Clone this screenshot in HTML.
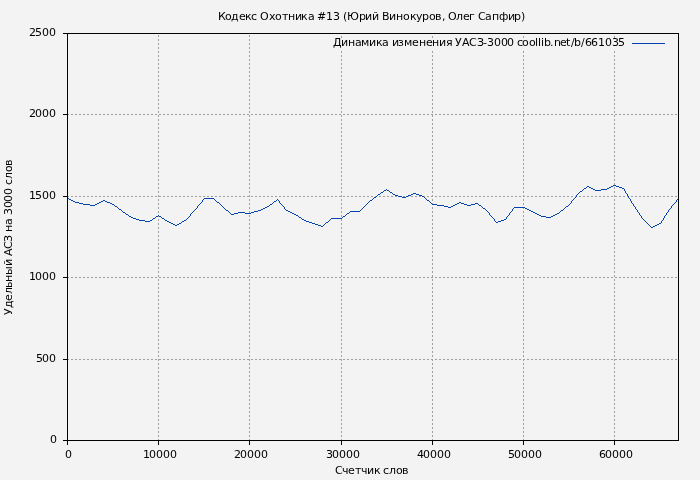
<!DOCTYPE html>
<html lang="ru">
<head>
<meta charset="utf-8">
<title>Кодекс Охотника #13 (Юрий Винокуров, Олег Сапфир)</title>
<style>
html, body { margin: 0; padding: 0; background: #f3f3f3; }
body { width: 700px; height: 480px; overflow: hidden; }
svg { display: block; }
text { font-family: "DejaVu Sans", "Liberation Sans", sans-serif; font-size: 11px; fill: #000; white-space: pre; }
.ax { stroke: #000; stroke-width: 1; fill: none; shape-rendering: crispEdges; }
.grid { stroke: #a0a0a0; stroke-width: 1; fill: none; stroke-dasharray: 2 2; shape-rendering: crispEdges; }
.data { stroke: #0542b0; stroke-width: 1; fill: none; shape-rendering: crispEdges; stroke-linejoin: round; }
</style>
</head>
<body>
<svg width="700" height="480" viewBox="0 0 700 480">
<rect x="0" y="0" width="700" height="480" fill="#f3f3f3"/>

<g class="grid">
<line x1="158.5" y1="440.5" x2="158.5" y2="33.5" stroke-dashoffset="0"/>
<line x1="249.5" y1="440.5" x2="249.5" y2="33.5" stroke-dashoffset="0"/>
<line x1="341.5" y1="440.5" x2="341.5" y2="50.5" stroke-dashoffset="0"/>
<line x1="341.5" y1="38" x2="341.5" y2="34"/>
<line x1="432.5" y1="440.5" x2="432.5" y2="50.5" stroke-dashoffset="0"/>
<line x1="432.5" y1="38" x2="432.5" y2="34"/>
<line x1="523.5" y1="440.5" x2="523.5" y2="50.5" stroke-dashoffset="0"/>
<line x1="523.5" y1="38" x2="523.5" y2="34"/>
<line x1="614.5" y1="440.5" x2="614.5" y2="50.5" stroke-dashoffset="0"/>
<line x1="614.5" y1="38" x2="614.5" y2="34"/>
<line x1="67.5" y1="359.5" x2="678.5" y2="359.5" stroke-dashoffset="1"/>
<line x1="67.5" y1="277.5" x2="678.5" y2="277.5" stroke-dashoffset="1"/>
<line x1="67.5" y1="196.5" x2="678.5" y2="196.5" stroke-dashoffset="1"/>
<line x1="67.5" y1="114.5" x2="678.5" y2="114.5" stroke-dashoffset="1"/>
</g>
<g>
<text x="50" y="443">0</text>
<text x="36 42 49" y="362">500</text>
<text x="29 35 42 49" y="280">1000</text>
<text x="29 35 42 49" y="199">1500</text>
<text x="29 35 42 49" y="117">2000</text>
<text x="29 35 42 49" y="36">2500</text>
</g>
<g>
<text x="65" y="458">0</text>
<text x="143 149 156 163 170" y="458">10000</text>
<text x="234 240 247 254 261" y="458">20000</text>
<text x="326 332 339 346 353" y="458">30000</text>
<text x="417 423 430 437 444" y="458">40000</text>
<text x="508 514 521 528 535" y="458">50000</text>
<text x="599 605 612 619 626" y="458">60000</text>
</g>
<text x="218 225 231 239 245 251 257 260 269 275 282 288 295 301 308 314 317 326 333 340 343 347 359 365 372 379 382 389 396 403 410 416 422 429 435 442 445 448 456 463 469 475 478 485 492 499 508 514 521" y="20">Кодекс Охотника #13 (Юрий Винокуров, Олег Сапфир)</text>
<text x="333 341 348 355 361 369 376 382 389 392 398 404 412 419 426 432 439 446 452 455 462 469 477 483 487 494 501 507 514 517 522 529 535 538 541 544 550 554 560 566 571 574 581 585 591 598 605 612 618" y="46">Динамика изменения УАСЗ-3000 coollib.net/b/661035</text>
<text x="335 342 348 355 361 367 374 380 383 389 396 402" y="474">Счетчик слов</text>
<text transform="translate(12,315) rotate(-90)" x="0 7 14 21 27 33 40 49 56 59 66 73 80 83 90 97 100 107 113 120 127 130 136 143 149" y="0">Удельный АСЗ на 3000 слов</text>
<line class="data" x1="632" y1="43.5" x2="665" y2="43.5"/>
<path class="data" d="M67 198.5h2M69 199.5h2M71 200.5h2M73 201.5h2M75 202.5h4M79 203.5h4M83 204.5h7M90 205.5h5M95 204.5h2M97 203.5h2M99 202.5h2M101 201.5h2M103 200.5h2M105 201.5h2M107 202.5h3M110 203.5h2M112 204.5h2M114 205.5h1M115 206.5h2M117 207.5h1M118 208.5h1M119 209.5h2M121 210.5h1M122 211.5h1M123 212.5h2M125 213.5h1M126 214.5h2M128 215.5h1M129 216.5h2M131 217.5h2M133 218.5h3M136 219.5h3M139 220.5h6M145 221.5h5M150 220.5h2M152 219.5h1M153 218.5h2M155 217.5h1M156 216.5h2M158 215.5h1M159 216.5h2M161 217.5h1M162 218.5h2M164 219.5h1M165 220.5h2M167 221.5h2M169 222.5h2M171 223.5h2M173 224.5h2M175 225.5h2M177 224.5h2M179 223.5h2M181 222.5h1M182 221.5h2M184 220.5h2M186 219.5h1M187 218.5h1M188 217.5h1M189 216.5h1M190 214.5h1M190 215.5h1M191 213.5h1M192 212.5h1M193 211.5h1M194 210.5h1M195 209.5h1M196 208.5h1M197 206.5h1M197 207.5h1M198 205.5h1M199 204.5h1M200 203.5h1M201 202.5h1M202 200.5h1M202 201.5h1M203 199.5h1M204 198.5h10M214 199.5h1M215 200.5h1M216 201.5h1M217 202.5h2M219 203.5h1M220 204.5h1M221 205.5h1M222 206.5h1M223 207.5h1M224 208.5h1M225 209.5h1M226 210.5h2M228 211.5h1M229 212.5h1M230 213.5h1M231 214.5h3M234 213.5h4M238 212.5h7M245 213.5h6M251 212.5h3M254 211.5h4M258 210.5h3M261 209.5h2M263 208.5h2M265 207.5h2M267 206.5h2M269 205.5h1M270 204.5h2M272 203.5h1M273 202.5h1M274 201.5h2M276 200.5h1M277 199.5h1M278 200.5h1M279 201.5h1M279 202.5h1M280 203.5h1M281 204.5h1M282 205.5h1M283 206.5h1M284 207.5h1M284 208.5h1M285 209.5h1M286 210.5h2M288 211.5h2M290 212.5h2M292 213.5h2M294 214.5h2M296 215.5h2M298 216.5h1M299 217.5h2M301 218.5h1M302 219.5h2M304 220.5h2M306 221.5h3M309 222.5h3M312 223.5h3M315 224.5h3M318 225.5h3M321 226.5h2M323 225.5h1M324 224.5h1M325 223.5h1M326 222.5h2M328 221.5h1M329 220.5h1M330 219.5h1M331 218.5h11M342 217.5h1M343 216.5h2M345 215.5h1M346 214.5h1M347 213.5h2M349 212.5h1M350 211.5h10M360 210.5h1M361 209.5h1M362 208.5h1M363 207.5h1M364 206.5h1M365 205.5h1M366 204.5h1M367 203.5h1M368 202.5h1M369 201.5h1M370 200.5h2M372 199.5h1M373 198.5h1M374 197.5h2M376 196.5h1M377 195.5h1M378 194.5h2M380 193.5h1M381 192.5h2M383 191.5h1M384 190.5h2M386 189.5h1M387 190.5h2M389 191.5h1M390 192.5h2M392 193.5h1M393 194.5h2M395 195.5h3M398 196.5h4M402 197.5h4M406 196.5h2M408 195.5h3M411 194.5h2M413 193.5h3M416 194.5h3M419 195.5h3M422 196.5h2M424 197.5h1M425 198.5h1M426 199.5h1M427 200.5h2M429 201.5h1M430 202.5h1M431 203.5h1M432 204.5h5M437 205.5h7M444 206.5h4M448 207.5h3M451 206.5h2M453 205.5h2M455 204.5h2M457 203.5h2M459 202.5h2M461 203.5h3M464 204.5h3M467 205.5h4M471 204.5h4M475 203.5h3M478 204.5h1M479 205.5h2M481 206.5h1M482 207.5h1M483 208.5h2M485 209.5h1M486 210.5h1M487 211.5h1M488 212.5h1M489 213.5h1M489 214.5h1M490 215.5h1M491 216.5h1M492 217.5h1M493 218.5h1M494 219.5h1M494 220.5h1M495 221.5h1M496 222.5h2M498 221.5h3M501 220.5h3M504 219.5h2M506 217.5h1M506 218.5h1M507 216.5h1M508 215.5h1M509 213.5h1M509 214.5h1M510 212.5h1M511 211.5h1M512 209.5h1M512 210.5h1M513 208.5h1M514 207.5h11M525 208.5h2M527 209.5h2M529 210.5h2M531 211.5h2M533 212.5h2M535 213.5h2M537 214.5h2M539 215.5h2M541 216.5h5M546 217.5h5M551 216.5h2M553 215.5h2M555 214.5h2M557 213.5h2M559 212.5h1M560 211.5h1M561 210.5h2M563 209.5h1M564 208.5h1M565 207.5h1M566 206.5h2M568 205.5h1M569 204.5h1M570 203.5h1M571 201.5h1M571 202.5h1M572 200.5h1M573 199.5h1M574 198.5h1M575 197.5h1M576 195.5h1M576 196.5h1M577 194.5h1M578 193.5h1M579 192.5h1M580 191.5h2M582 190.5h1M583 189.5h1M584 188.5h2M586 187.5h1M587 186.5h2M589 187.5h2M591 188.5h2M593 189.5h2M595 190.5h6M601 189.5h6M607 188.5h2M609 187.5h2M611 186.5h2M613 185.5h3M616 186.5h3M619 187.5h3M622 188.5h2M624 189.5h1M624 190.5h1M625 191.5h1M625 192.5h1M626 193.5h1M627 194.5h1M627 195.5h1M628 196.5h1M628 197.5h1M629 198.5h1M630 199.5h1M630 200.5h1M631 201.5h1M631 202.5h1M632 203.5h1M633 204.5h1M633 205.5h1M634 206.5h1M635 207.5h1M635 208.5h1M636 209.5h1M637 210.5h1M637 211.5h1M638 212.5h1M639 213.5h1M639 214.5h1M640 215.5h1M641 216.5h1M641 217.5h1M642 218.5h1M643 219.5h1M644 220.5h1M645 221.5h1M646 222.5h1M647 223.5h1M648 224.5h1M649 225.5h1M650 226.5h1M651 227.5h2M653 226.5h2M655 225.5h2M657 224.5h2M659 223.5h2M661 221.5h1M661 222.5h1M662 220.5h1M663 218.5h1M663 219.5h1M664 216.5h1M664 217.5h1M665 215.5h1M666 213.5h1M666 214.5h1M667 212.5h1M668 210.5h1M668 211.5h1M669 209.5h1M670 208.5h1M671 206.5h1M671 207.5h1M672 205.5h1M673 204.5h1M674 203.5h1M675 202.5h1M676 200.5h1M676 201.5h1M677 199.5h1M678 198.5h1"/>
<g class="ax">
<rect x="67.5" y="33.5" width="611.0" height="407.0"/>
<line x1="67.5" y1="440.5" x2="67.5" y2="445.0"/>
<line x1="158.5" y1="440.5" x2="158.5" y2="445.0"/>
<line x1="249.5" y1="440.5" x2="249.5" y2="445.0"/>
<line x1="341.5" y1="440.5" x2="341.5" y2="445.0"/>
<line x1="432.5" y1="440.5" x2="432.5" y2="445.0"/>
<line x1="523.5" y1="440.5" x2="523.5" y2="445.0"/>
<line x1="614.5" y1="440.5" x2="614.5" y2="445.0"/>
<line x1="62.5" y1="440.5" x2="67.5" y2="440.5"/>
<line x1="62.5" y1="359.5" x2="67.5" y2="359.5"/>
<line x1="62.5" y1="277.5" x2="67.5" y2="277.5"/>
<line x1="62.5" y1="196.5" x2="67.5" y2="196.5"/>
<line x1="62.5" y1="114.5" x2="67.5" y2="114.5"/>
<line x1="62.5" y1="33.5" x2="67.5" y2="33.5"/>
</g>
</svg>
</body>
</html>
